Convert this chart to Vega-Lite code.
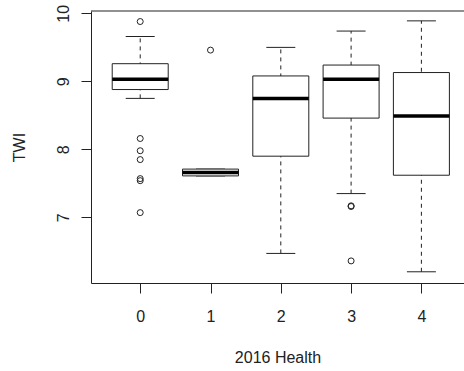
{
  "$schema": "https://vega.github.io/schema/vega-lite/v6.json",
  "autosize": {"type": "none"},
  "padding": {"left": 91, "top": 11, "right": 0, "bottom": 88},
  "width": 373,
  "height": 272,
  "background": "white",
  "config": {
    "view": {"stroke": null},
    "font": "Liberation Sans"
  },
  "datasets": {
    "boxes": [
      {"health": 0, "lower": 8.75, "q1": 8.88, "median": 9.03, "q3": 9.26, "upper": 9.66},
      {"health": 1, "lower": 7.61, "q1": 7.61, "median": 7.66, "q3": 7.71, "upper": 7.71},
      {"health": 2, "lower": 6.47, "q1": 7.90, "median": 8.75, "q3": 9.08, "upper": 9.50},
      {"health": 3, "lower": 7.35, "q1": 8.46, "median": 9.03, "q3": 9.24, "upper": 9.74},
      {"health": 4, "lower": 6.20, "q1": 7.62, "median": 8.49, "q3": 9.13, "upper": 9.89}
    ],
    "outliers": [
      {"health": 0, "twi": 9.88},
      {"health": 0, "twi": 8.16},
      {"health": 0, "twi": 7.98},
      {"health": 0, "twi": 7.85},
      {"health": 0, "twi": 7.57},
      {"health": 0, "twi": 7.54},
      {"health": 0, "twi": 7.07},
      {"health": 1, "twi": 9.46},
      {"health": 3, "twi": 7.16},
      {"health": 3, "twi": 7.17},
      {"health": 3, "twi": 6.36}
    ],
    "frame": [{"top": 10.035}]
  },
  "encoding": {
    "x": {
      "field": "health",
      "type": "quantitative",
      "scale": {"domain": [-0.7, 4.606], "nice": false, "zero": false, "padding": 0},
      "axis": {
        "values": [0, 1, 2, 3, 4],
        "format": "d",
        "title": "2016 Health",
        "grid": false,
        "domain": true,
        "domainColor": "#222",
        "tickSize": 10,
        "tickColor": "#222",
        "labelFontSize": 16,
        "labelColor": "#222",
        "labelPadding": 15,
        "titleFontSize": 16,
        "titleFontWeight": "normal",
        "titleColor": "#222",
        "titlePadding": 25
      }
    }
  },
  "layer": [
    {
      "data": {"name": "boxes"},
      "mark": {"type": "rule", "strokeDash": [4, 4], "color": "#222", "strokeWidth": 1},
      "encoding": {
        "y": {
          "field": "lower",
          "type": "quantitative",
          "scale": {"domain": [6.035, 10.035], "nice": false, "zero": false, "padding": 0},
          "axis": {
            "values": [7, 8, 9, 10],
            "format": "d",
            "title": "TWI",
            "grid": false,
            "domain": true,
            "domainColor": "#222",
            "tickSize": 10,
            "tickColor": "#222",
            "labelFontSize": 16,
            "labelColor": "#222",
            "labelAngle": -90,
            "labelAlign": "center",
            "labelBaseline": "bottom",
            "labelPadding": 10,
            "titleFontSize": 16,
            "titleFontWeight": "normal",
            "titleColor": "#222",
            "titlePadding": 28
          }
        },
        "y2": {"field": "upper"}
      }
    },
    {
      "data": {"name": "frame"},
      "mark": {"type": "rule", "color": "#222", "strokeWidth": 1},
      "encoding": {"y": {"field": "top", "type": "quantitative"}, "x": null}
    },
    {
      "data": {"name": "boxes"},
      "mark": {"type": "tick", "orient": "horizontal", "size": 29, "thickness": 1, "color": "#222", "opacity": 1},
      "encoding": {"y": {"field": "upper", "type": "quantitative"}}
    },
    {
      "data": {"name": "boxes"},
      "mark": {"type": "tick", "orient": "horizontal", "size": 29, "thickness": 1, "color": "#222", "opacity": 1},
      "encoding": {"y": {"field": "lower", "type": "quantitative"}}
    },
    {
      "data": {"name": "boxes"},
      "mark": {"type": "bar", "size": 56, "fill": "white", "stroke": "#222", "strokeWidth": 1},
      "encoding": {
        "y": {"field": "q1", "type": "quantitative"},
        "y2": {"field": "q3"}
      }
    },
    {
      "data": {"name": "boxes"},
      "mark": {"type": "tick", "orient": "horizontal", "size": 56, "thickness": 3.5, "color": "black", "opacity": 1},
      "encoding": {"y": {"field": "median", "type": "quantitative"}}
    },
    {
      "data": {"name": "outliers"},
      "mark": {"type": "point", "shape": "circle", "filled": false, "size": 36, "strokeWidth": 1, "color": "#222", "opacity": 1},
      "encoding": {"y": {"field": "twi", "type": "quantitative"}}
    }
  ]
}
